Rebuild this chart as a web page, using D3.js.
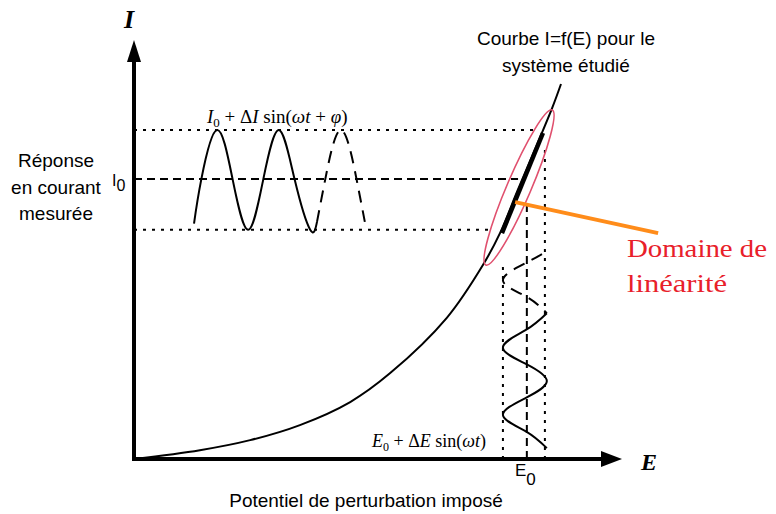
<!DOCTYPE html>
<html><head><meta charset="utf-8">
<script src="https://cdn.jsdelivr.net/npm/d3@7"></script>
<style>body{margin:0;background:#fff}svg{display:block}</style>
</head><body>
<svg id="c" width="776" height="514"></svg>
<script>
// ---- data (E, I in arbitrary units 0..100) ----
const curveE = [0, 13.5, 23.8, 34.0, 44.3, 52.5, 64.1, 71.5, 75.0, 78.5, 82.2, 85.7, 87.5];
const curveI = [0, 2.1, 4.5, 8.1, 13.6, 20.5, 33.7, 46.3, 53.9, 63.8, 74.0, 83.8, 89.5];
const linearSeg = [[75.4, 53.9], [83.8, 77.8]];
const ellipseEnds = [[72.1, 46.3], [85.7, 83.3]];
const hLevels = [78.5, 66.8, 54.7];          // top dotted, I0 dashed, bottom dotted
const hEnds = [82.6, 78.7, 73.0];
const vLevels = [75.6, 80.5, 84.2];          // left dotted, E0 dashed, right dotted
const vEnds = [46.8, 61.8, 74.5];
const waveI_E_solid = [12.3, 13.8, 17.0, 20.2, 23.4, 26.5, 29.7, 32.9, 36.1, 37.5];
const waveI_I_solid = [56.2, 66.8, 78.5, 66.8, 54.7, 66.8, 78.5, 66.8, 54.7, 56.6];
const waveI_E_dash = [37.5, 39.2, 42.4, 45.6, 47.3];
const waveI_I_dash = [56.6, 66.8, 78.5, 66.8, 56.6];
const waveE_E_dash = [83.6, 80.3, 75.6, 80.3, 84.6];
const waveE_I_dash = [48.9, 46.8, 42.7, 38.8, 34.8];
const waveE_E_solid = [84.6, 80.3, 75.6, 80.3, 84.6, 80.3, 75.6, 80.3, 84.6];
const waveE_I_solid = [34.8, 30.8, 26.7, 22.7, 18.6, 14.6, 10.5, 6.6, 2.6];
const pointer = [[78.1, 61.3], [107.4, 53.9]];

const svg = d3.select("#c");
const x = d3.scaleLinear().domain([0, 100]).range([134, 622]);
const y = d3.scaleLinear().domain([0, 100]).range([459, 40]);
const zip = (a, b) => a.map((v, i) => [v, b[i]]);

// axes
const xa = svg.append("g").attr("transform", `translate(0,${y(0)})`)
  .call(d3.axisBottom(x).tickValues([]).tickSizeOuter(0));
xa.select(".domain").attr("stroke", "#000").attr("stroke-width", 4)
  .attr("d", `M${x(0) - 2},0H${x(100) - 14}`);
const ya = svg.append("g").attr("transform", `translate(${x(0)},0)`)
  .call(d3.axisLeft(y).tickValues([]).tickSizeOuter(0));
ya.select(".domain").attr("stroke", "#000").attr("stroke-width", 4)
  .attr("d", `M0,${y(0) + 2}V${y(100) + 14}`);
// arrow heads
svg.append("path").attr("fill", "#000")
  .attr("d", `M${x(100)},${y(0)} L${x(100) - 21},${y(0) - 8} L${x(100) - 21},${y(0) + 8} Z`);
svg.append("path").attr("fill", "#000")
  .attr("d", `M${x(0)},${y(100)} L${x(0) - 7},${y(100) + 22} L${x(0) + 7},${y(100) + 22} Z`);

// reference lines
const styles = ["3,6", "8,5", "3,6"];
hLevels.forEach((l, i) => {
  svg.append("line").attr("x1", x(0)).attr("x2", x(hEnds[i])).attr("y1", y(l)).attr("y2", y(l))
    .attr("stroke", "#000").attr("stroke-width", 2).attr("stroke-dasharray", styles[i]);
});
vLevels.forEach((l, i) => {
  svg.append("line").attr("y1", y(0)).attr("y2", y(vEnds[i])).attr("x1", x(l)).attr("x2", x(l))
    .attr("stroke", "#000").attr("stroke-width", 2).attr("stroke-dasharray", styles[i]);
});

// curve I = f(E)
const waveLine = d3.line().x(d => x(d[0])).y(d => y(d[1])).curve(d3.curveNatural);
svg.append("path").attr("d", d3.line().x(d => x(d[0])).y(d => y(d[1])).curve(d3.curveCatmullRom)(zip(curveE, curveI)))
  .attr("fill", "none").attr("stroke", "#000").attr("stroke-width", 2);
svg.append("path").attr("d", d3.line().x(d => x(d[0])).y(d => y(d[1]))(linearSeg))
  .attr("fill", "none").attr("stroke", "#000").attr("stroke-width", 4.5);

// ellipse
const p1 = [x(ellipseEnds[0][0]), y(ellipseEnds[0][1])], p2 = [x(ellipseEnds[1][0]), y(ellipseEnds[1][1])];
const cx = (p1[0] + p2[0]) / 2, cy = (p1[1] + p2[1]) / 2;
const rx = Math.hypot(p2[0] - p1[0], p2[1] - p1[1]) / 2;
const ang = Math.atan2(p2[1] - p1[1], p2[0] - p1[0]) * 180 / Math.PI;
svg.append("ellipse").attr("cx", cx).attr("cy", cy).attr("rx", rx).attr("ry", 12)
  .attr("transform", `rotate(${ang},${cx},${cy})`)
  .attr("fill", "none").attr("stroke", "#e0506e").attr("stroke-width", 1.6);

// waves
svg.append("path").attr("d", waveLine(zip(waveI_E_solid, waveI_I_solid)))
  .attr("fill", "none").attr("stroke", "#000").attr("stroke-width", 2);
svg.append("path").attr("d", waveLine(zip(waveI_E_dash, waveI_I_dash)))
  .attr("fill", "none").attr("stroke", "#000").attr("stroke-width", 2).attr("stroke-dasharray", "12,8");
svg.append("path").attr("d", waveLine(zip(waveE_E_solid, waveE_I_solid)))
  .attr("fill", "none").attr("stroke", "#000").attr("stroke-width", 2);
svg.append("path").attr("d", waveLine(zip(waveE_E_dash, waveE_I_dash)))
  .attr("fill", "none").attr("stroke", "#000").attr("stroke-width", 2).attr("stroke-dasharray", "12,8");

// pointer
svg.append("line").attr("x1", x(pointer[0][0])).attr("y1", y(pointer[0][1]))
  .attr("x2", x(pointer[1][0])).attr("y2", y(pointer[1][1]))
  .attr("stroke", "#ff8c1a").attr("stroke-width", 4);

// texts
const sans = "'Liberation Sans', Arial, sans-serif", serif = "'Liberation Serif', 'Times New Roman', serif";
const T = (tx, ty, s, o) => {
  const t = svg.append("text").attr("x", tx).attr("y", ty).text(s)
    .attr("font-family", o.f || sans).attr("font-size", o.s || 19).attr("fill", o.c || "#000")
    .attr("text-anchor", o.a || "start");
  if (o.i) t.attr("font-style", "italic");
  if (o.b) t.attr("font-weight", "bold");
  return t;
};
T(129, 28, "I", {f: serif, s: 26, i: 1, b: 1, a: "middle"});
T(641, 470, "E", {f: serif, s: 24, i: 1, b: 1});
T(56, 167, "Réponse", {a: "middle"});
T(56, 194, "en courant", {a: "middle"});
T(56, 220, "mesurée", {a: "middle"});
const i0 = T(112, 186, "I", {s: 16});
i0.append("tspan").attr("dy", 5).text("0");
const e0 = T(515, 476, "E", {s: 17});
e0.append("tspan").attr("dy", 9).text("0");
T(366, 507, "Potentiel de perturbation imposé", {a: "middle"});
T(566, 45, "Courbe I=f(E) pour le", {a: "middle"});
T(566, 72, "système étudié", {a: "middle"});
T(627, 257, "Domaine de", {f: serif, s: 26, c: "#e8202a"}).attr("textLength", 140).attr("lengthAdjust", "spacingAndGlyphs");
T(627, 292, "linéarité", {f: serif, s: 26, c: "#e8202a"}).attr("textLength", 100).attr("lengthAdjust", "spacingAndGlyphs");

// formula labels: mixed italic / upright
function formula(tx, ty, size, parts) {
  const t = svg.append("text").attr("x", tx).attr("y", ty).attr("font-family", serif).attr("font-size", size);
  parts.forEach(p => {
    const s = t.append("tspan").text(p[0]).attr("font-style", p[1] ? "italic" : "normal");
    if (p[2]) s.attr("dy", p[2]);
    if (p[3]) s.attr("font-size", p[3]);
  });
  return t;
}
formula(207, 123, 19, [["I", 1], ["0", 0, 4, 13], [" + Δ", 0, -4], ["I", 1], [" sin(", 0], ["ωt", 1], [" + ", 0], ["φ", 1], [")", 0]]);
formula(372, 447, 18, [["E", 1], ["0", 0, 4, 12], [" + Δ", 0, -4], ["E", 1], [" sin(", 0], ["ωt", 1], [")", 0]]);
</script>
</body></html>
